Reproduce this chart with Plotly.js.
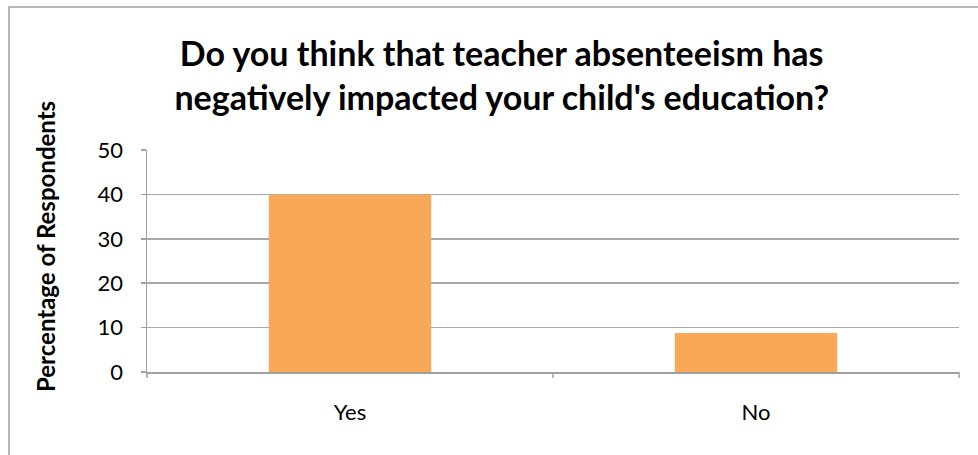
<!DOCTYPE html>
<html>
<head>
<meta charset="utf-8">
<script src="https://cdn.plot.ly/plotly-3.0.1.min.js"></script>
<style>html,body{margin:0;padding:0;background:#fff;}#chart{width:978px;height:455px;}</style>
</head>
<body>
<div id="chart"></div>
<script>
const categories = ["Yes", "No"];
const percentages = [40, 8.8];
const chartTitle = "Do you think that teacher absenteeism has<br>negatively impacted your child's education?";
const yTitle = "Percentage of Respondents";
const yTicks = [0, 10, 20, 30, 40, 50];

const font = "Lato, Open Sans, sans-serif";
const trace = {
  type: "bar",
  x: categories,
  y: percentages,
  marker: {color: "#F9A857", line: {width: 0}},
  hoverinfo: "none"
};
const layout = {
  width: 978, height: 455,
  margin: {l: 147, r: 19, t: 150, b: 83, pad: 0},
  paper_bgcolor: "#fff", plot_bgcolor: "#fff",
  bargap: 0.6,
  showlegend: false,
  title: {
    text: "<b>" + chartTitle + "</b>",
    font: {family: font, size: 34, color: "#000"},
    x: 0.513, xanchor: "center", y: 0.855, yanchor: "middle"
  },
  xaxis: {
    type: "category",
    showgrid: false,
    showline: true, linecolor: "#A0A0A0", linewidth: 1.5,
    ticks: "", tickfont: {family: font, size: 22, color: "#000"},
    ticklabelstandoff: 20,
    fixedrange: true
  },
  yaxis: {
    range: [0, 50],
    tickvals: yTicks,
    showgrid: true, gridcolor: "#A8A8A8", gridwidth: 1.5,
    showline: true, linecolor: "#A0A0A0", linewidth: 1.5,
    ticks: "outside", ticklen: 5, tickcolor: "#A0A0A0", tickwidth: 1.5,
    tickfont: {family: font, size: 22, color: "#000"},
    ticklabelstandoff: 13,
    zeroline: false,
    fixedrange: true
  },
  annotations: [
    {text: "<b>" + yTitle + "</b>", textangle: -90, showarrow: false,
     xref: "paper", yref: "paper", x: (45 - 147) / 812, y: (372 - 246) / 222,
     xanchor: "center", yanchor: "middle",
     font: {family: font, size: 24, color: "#000"}}
  ],
  shapes: [
    {type: "rect", xref: "paper", yref: "paper", x0: -0.17, x1: 1.1, y0: -0.5, y1: (372 - 7) / 222,
     line: {color: "#A0A0A0", width: 1.5}, fillcolor: "rgba(0,0,0,0)", layer: "below"},
    {type: "line", xref: "paper", yref: "paper", x0: 0.5, x1: 0.5, y0: 0, y1: -0.027,
     line: {color: "#A0A0A0", width: 1.5}},
    {type: "line", xref: "paper", yref: "paper", x0: 1, x1: 1, y0: 0, y1: -0.027,
     line: {color: "#A0A0A0", width: 1.5}},
    {type: "line", xref: "paper", yref: "paper", x0: 0, x1: 0, y0: 0, y1: -0.027,
     line: {color: "#A0A0A0", width: 1.5}}
  ]
};
Plotly.newPlot("chart", [trace], layout, {displayModeBar: false, staticPlot: true});
</script>
</body>
</html>
